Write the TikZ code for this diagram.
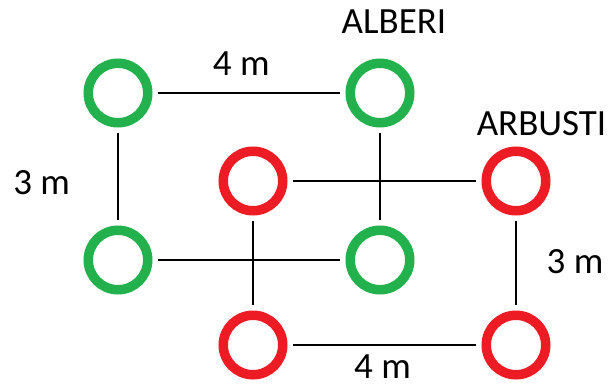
\documentclass[tikz,border=0pt]{standalone}
\usepackage{fontspec}
\setmainfont{Carlito}
\usepackage{tikz}
\definecolor{treegreen}{RGB}{34,177,76}
\definecolor{shrubred}{RGB}{237,28,36}

\begin{document}
\begin{tikzpicture}[x=1pt, y=-1pt,
  tree/.style = {draw=treegreen, circle, line width=9.5pt, minimum size=59.5pt, inner sep=0pt, outer sep=10pt},
  shrub/.style = {tree, draw=shrubred},
  lbl/.style = {font=\fontsize{37}{40}\selectfont, inner sep=0pt}]
\useasboundingbox (0,0) rectangle (608,389);
% alberi
\node[tree] (g1) at (118,93) {};
\node[tree] (g2) at (380,93) {};
\node[tree] (g3) at (118,260) {};
\node[tree] (g4) at (380,260) {};
% arbusti
\node[shrub] (r1) at (253,181) {};
\node[shrub] (r2) at (516,181) {};
\node[shrub] (r3) at (253,345) {};
\node[shrub] (r4) at (516,345) {};
\draw[line width=1.5pt] (g1) -- (g2);
\draw[line width=1.5pt] (g1) -- (g3);
\draw[line width=1.5pt] (g2) -- (g4);
\draw[line width=1.5pt] (g3) -- (g4);
\draw[line width=1.5pt] (r1) -- (r2);
\draw[line width=1.5pt] (r1) -- (r3);
\draw[line width=1.5pt] (r2) -- (r4);
\draw[line width=1.5pt] (r3) -- (r4);
% scritte
\node[lbl] (alberi) at (394,21.7) {ALBERI};
\node[lbl] (arbusti) at (541.5,124) {ARBUSTI};
\node[lbl] (gtop) at (241.3,64) {4 m};
\node[lbl] (gside) at (41.7,182.3) {3 m};
\node[lbl] (rside) at (575,261.7) {3 m};
\node[lbl] (rbottom) at (382.5,367) {4 m};
\end{tikzpicture}
\end{document}
